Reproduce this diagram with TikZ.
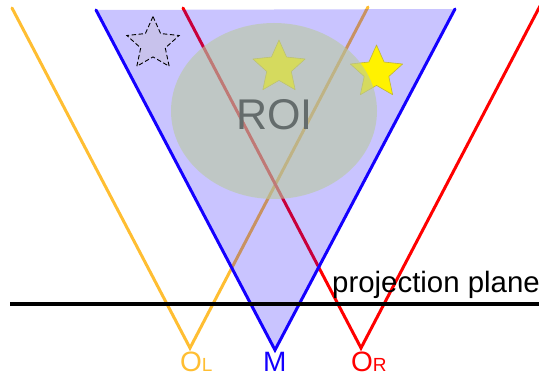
\documentclass[tikz,border=0pt]{standalone}
\usepackage{fontspec}
\setmainfont{Liberation Sans}
\definecolor{camL}{RGB}{255,190,50}
\definecolor{camR}{RGB}{255,0,0}
\definecolor{camM}{RGB}{20,0,255}
\definecolor{roifill}{RGB}{186,202,158}
\definecolor{roitext}{RGB}{100,108,108}
\definecolor{ghost}{RGB}{200,194,236}
\definecolor{staredge}{RGB}{190,180,60}
% five-pointed star: #1 style, #2 centre, #3 outer radius
\newcommand{\starat}[3]{%
  \begin{scope}[shift={#2}]
  \path[#1] (-90:#3) -- (-54:0.47*#3) -- (-18:#3) -- (18:0.47*#3) -- (54:#3)
    -- (90:0.47*#3) -- (126:#3) -- (162:0.47*#3) -- (198:#3) -- (234:0.47*#3) -- cycle;
  \end{scope}}
\begin{document}
\begin{tikzpicture}[x=1pt,y=-1pt,
  ray/.style={line width=3pt,line cap=round},
  yellowstar/.style={fill=yellow,draw=staredge,line width=0.6pt,line join=round},
  ghoststar/.style={fill=ghost,draw=black,line width=0.9pt,dash pattern=on 4.5pt off 2.5pt},
  lbl/.style={inner sep=0pt,anchor=base west}]
\useasboundingbox (0,0) rectangle (539,379);
% camera vertices and ray ends
\coordinate (OL) at (190,348);
\coordinate (OLa) at (12,8);
\coordinate (OLb) at (368,7);
\coordinate (M) at (275,350);
\coordinate (Ma) at (96,10);
\coordinate (Mb) at (455,9);
\coordinate (OR) at (361,348);
\coordinate (ORa) at (183,8);
\coordinate (ORb) at (540,6);
\coordinate (PL) at (10,304);
\coordinate (PR) at (539,304);
% side camera rays (under the view volume)
\draw[ray,camL] (OLa) -- (OL) -- (OLb);
\draw[ray,camR] (ORa) -- (OR) -- (ORb);
% view volume of M
\fill[camM,opacity=0.23] (Ma) -- (M) -- (Mb) -- cycle;
% objects
\starat{yellowstar}{(279,67.5)}{27.5}
\starat{yellowstar}{(376.5,72.5)}{27.5}
\starat{ghoststar}{(153,44)}{27.5}
% region of interest
\fill[roifill,opacity=0.6] (274,111) ellipse [x radius=103,y radius=88];
\node[inner sep=0pt,anchor=base,text=roitext,font=\fontsize{43}{43}\selectfont] (roi) at (274.5,130) {ROI};
% M rays
\draw[ray,camM] (Ma) -- (M) -- (Mb);
% projection plane
\draw[line width=4pt] (PL) -- (PR);
\node[lbl,font=\fontsize{29.4}{29.4}\selectfont] (pp) at (332,293) {projection plane};
% labels
\node[lbl,text=camL,font=\fontsize{28}{28}\selectfont] (lOL) at (180,372) {O{\fontsize{19}{19}\selectfont L}};
\node[lbl,text=camM,font=\fontsize{28}{28}\selectfont] (lM) at (263,372) {M};
\node[lbl,text=camR,font=\fontsize{28}{28}\selectfont] (lOR) at (351,372) {O{\fontsize{19}{19}\selectfont R}};
\end{tikzpicture}
\end{document}
